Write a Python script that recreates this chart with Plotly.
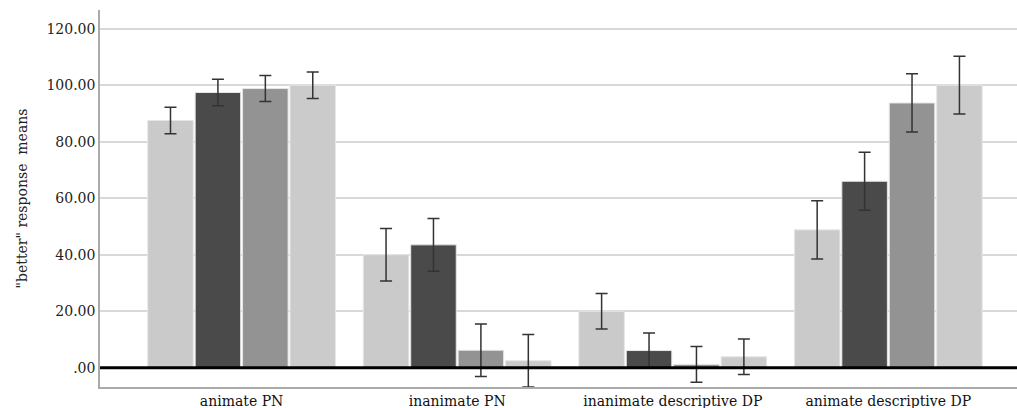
import plotly.graph_objects as go

categories = ["animate PN", "inanimate PN", "inanimate descriptive DP", "animate descriptive DP"]
series_names = ["Group 1", "Group 2", "Group 3", "Group 4"]
means = [
    [87.5, 40.0, 20.0, 48.8],
    [97.4, 43.5, 6.1, 66.0],
    [98.8, 6.2, 1.2, 93.7],
    [100.0, 2.5, 3.9, 100.0],
]
errors = [
    [4.7, 9.3, 6.3, 10.3],
    [4.7, 9.3, 6.2, 10.3],
    [4.6, 9.3, 6.3, 10.3],
    [4.7, 9.3, 6.3, 10.2],
]
colors = ["#cacaca", "#4a4a4a", "#939393", "#cbcbcb"]
ytickvals = [0, 20, 40, 60, 80, 100, 120]
yticktext = [".00", "20.00", "40.00", "60.00", "80.00", "100.00", "120.00"]

fig = go.Figure()
for name, vals, errs, col in zip(series_names, means, errors, colors):
    fig.add_trace(go.Bar(
        x=categories, y=vals, name=name,
        marker=dict(color=col, line=dict(color="#e6e6e6", width=1)),
        error_y=dict(type="data", array=errs, visible=True, color="#333333", thickness=1.5, width=6),
    ))

font_family = "DejaVu Serif"
fig.update_layout(
    width=1017, height=408,
    margin=dict(l=100, r=0, t=10, b=21),
    paper_bgcolor="white", plot_bgcolor="white",
    barmode="group", bargap=0.12, bargroupgap=0.04,
    showlegend=False,
    font=dict(family=font_family, color="#222222"),
)
# reference line at zero, drawn above the bars
fig.add_shape(type="line", xref="paper", yref="y", x0=0, x1=1, y0=0, y1=0,
              line=dict(color="black", width=3), layer="above")
fig.update_xaxes(
    range=[-0.657, 3.597], showgrid=False, ticks="", showline=True,
    linecolor="#aaaaaa", linewidth=1.5, mirror=False,
    tickfont=dict(size=14, family=font_family, color="#111111"),
)
fig.update_yaxes(
    range=[-6.8, 126.6], tickvals=ytickvals, ticktext=yticktext,
    showgrid=True, gridcolor="#d9d9d9", gridwidth=1.5,
    zeroline=False,
    showline=True, linecolor="#aaaaaa", linewidth=1.5, ticks="",
    tickfont=dict(size=14, family=font_family, color="#222222"),
    title=dict(text='"better" response  means', font=dict(size=14, family=font_family, color="#222222"), standoff=16),
)
fig.write_html("out.html")
